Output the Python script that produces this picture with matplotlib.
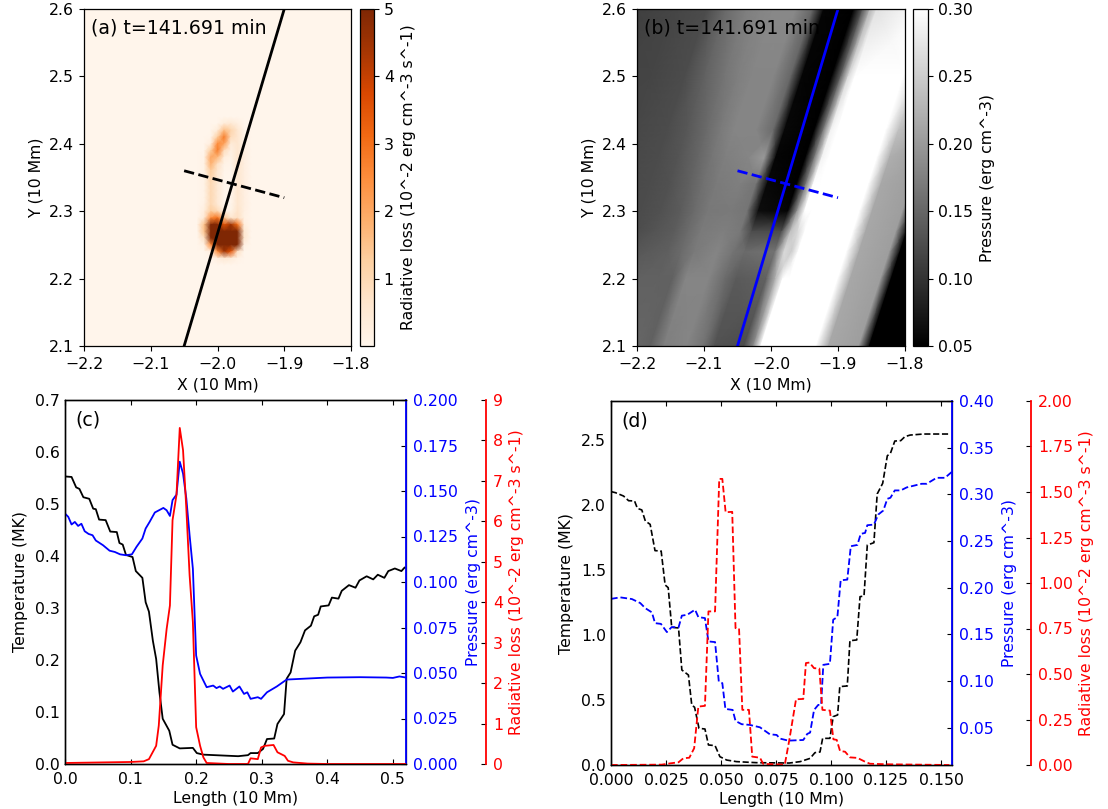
import numpy as np
import matplotlib
matplotlib.use('Agg')
import matplotlib.pyplot as plt

plt.rcParams['font.size'] = 11.3
plt.rcParams['axes.linewidth'] = 0.9

W, H = 1108, 809

# slice lines
long_x = [-2.05, -1.90]
long_y = [2.10, 2.60]
short_x = [-2.05, -1.90]
short_y = [2.36, 2.32]

# radiative loss map around the blob (10^-2 erg cm^-3 s^-1), the core saturates the colour scale
rad_x = [-2.03, -2.02, -2.01, -2.00, -1.99, -1.98, -1.97, -1.96, -1.95]
rad_y = [2.44, 2.43, 2.42, 2.41, 2.40, 2.39, 2.38, 2.37, 2.36, 2.35, 2.34, 2.33,
         2.32, 2.31, 2.30, 2.29, 2.28, 2.27, 2.26, 2.25, 2.24, 2.23, 2.22]
rad_vals = [
    [0, 0, 0, 0, 0, 0, 0, 0, 0],
    [0, 0, 0, 0, .4, .5, .25, 0, 0],
    [0, 0, 0, .4, 1.6, 1.1, .6, .05, 0],
    [0, 0, .05, 1.3, 2.8, .9, .6, .1, 0],
    [0, 0, .3, 2.5, 2.1, .4, .6, .15, 0],
    [0, 0, 1.3, 2.8, .9, .2, .6, .2, 0],
    [0, .1, 2.0, 1.7, .3, .1, .65, .25, 0],
    [0, .1, 1.8, .8, .1, .05, .65, .25, 0],
    [0, .1, 1.3, .6, .05, 0, .6, .25, 0],
    [0, .1, 1.1, .5, 0, 0, .6, .25, 0],
    [0, .1, 1.0, .5, 0, 0, .6, .25, 0],
    [0, .1, 1.0, .5, 0, 0, .6, .25, 0],
    [0, .1, 1.0, .5, 0, 0, .6, .25, 0],
    [0, .15, 1.0, .5, 0, 0, .6, .25, 0],
    [0, .3, 1.3, 1.0, .2, .1, .7, .2, 0],
    [0, .5, 2.5, 3, 1.5, .6, .8, .15, 0],
    [.1, 1.5, 5, 6, 3.5, 4.5, 3, .3, 0],
    [.05, 1.5, 7, 9, 9, 9, 6, .6, 0],
    [0, .8, 6, 12, 12, 12, 7, .6, 0],
    [0, .2, 2.5, 9, 12, 11, 5, .2, 0],
    [0, 0, .3, 2.5, 4.5, 3.5, .8, 0, 0],
    [0, 0, 0, .3, .5, .4, .1, 0, 0],
    [0, 0, 0, 0, 0, 0, 0, 0, 0],
]

# pressure map, columns follow the tilted field direction (x value where the band meets y=2.1)
pre_u = [-2.368, -2.309, -2.259, -2.230, -2.200, -2.180, -2.160, -2.126, -2.101, -2.084,
         -2.040, -2.026, -2.015, -2.005, -1.933, -1.914, -1.869, -1.853, -1.800]
pre_y = [2.60, 2.50, 2.42, 2.38, 2.34, 2.30, 2.27, 2.24, 2.20, 2.10]
pre_vals = [
    [.112, .118, .125, .155, .175, .180, .183, .183, .150, .055, .050, .138, .225, .270, .300, .300, .300, .300, .300],
    [.115, .118, .125, .145, .165, .175, .180, .180, .150, .055, .050, .150, .263, .300, .300, .275, .215, .175, .175],
    [.118, .120, .125, .135, .155, .170, .180, .180, .155, .058, .050, .175, .288, .300, .300, .238, .205, .125, .050],
    [.118, .120, .125, .133, .150, .165, .175, .180, .200, .055, .050, .175, .288, .300, .300, .220, .205, .100, .050],
    [.118, .120, .125, .130, .145, .160, .170, .175, .165, .058, .050, .175, .300, .300, .300, .215, .205, .075, .050],
    [.118, .120, .125, .130, .140, .155, .168, .170, .165, .063, .055, .200, .300, .300, .300, .215, .205, .063, .050],
    [.125, .125, .125, .133, .140, .155, .170, .175, .168, .125, .125, .238, .263, .300, .300, .215, .205, .055, .050],
    [.133, .133, .133, .138, .143, .155, .170, .180, .163, .155, .163, .263, .250, .300, .300, .215, .205, .050, .050],
    [.145, .145, .145, .145, .145, .145, .180, .180, .155, .138, .145, .225, .300, .300, .300, .215, .205, .050, .050],
    [.150, .150, .150, .150, .150, .145, .175, .180, .163, .130, .125, .188, .300, .300, .300, .215, .205, .050, .050],
]

# panel (c) solid cut
c_temp_x = [0, .010, .017, .022, .028, .037, .043, .047, .052, .062, .069, .079, .083, .088, .093, .103, .108,
            .118, .123, .128, .134, .139, .144, .149, .159, .164, .175, .195, .201, .211, .246, .264, .279, .283,
            .294, .302, .308, .319, .324, .334, .338, .344, .351, .359, .366, .375, .380, .386, .390, .402, .407,
            .417, .422, .433, .443, .449, .460, .470, .477, .487, .493, .503, .513, .518, .520]
c_temp_y = [.553, .552, .532, .529, .513, .510, .491, .490, .470, .469, .447, .446, .425, .422, .402, .398, .371,
            .358, .311, .293, .237, .202, .138, .087, .064, .037, .030, .031, .021, .018, .016, .015, .017, .021,
            .021, .029, .048, .049, .077, .096, .164, .176, .218, .234, .257, .266, .284, .287, .303, .305, .320,
            .318, .333, .344, .339, .353, .361, .355, .364, .358, .371, .376, .371, .378, .377]
c_pres_x = [0, .005, .010, .015, .020, .025, .030, .036, .042, .047, .058, .068, .076, .084, .093, .102, .109,
            .118, .123, .129, .137, .150, .155, .160, .164, .170, .175, .180, .185, .190, .195, .200, .206, .216,
            .226, .231, .236, .241, .251, .256, .266, .273, .278, .283, .294, .299, .308, .323, .338, .40, .45,
            .49, .50, .51, .52]
c_pres_y = [.1376, .1358, .1316, .133, .1308, .132, .1279, .1264, .1257, .1228, .1202, .1172, .1165, .1152, .1147,
            .1152, .1193, .1239, .1294, .133, .1382, .1407, .1394, .1363, .145, .148, .1661, .1596, .1459, .1257,
            .1073, .0596, .0495, .0422, .0431, .0417, .0426, .0413, .0431, .0398, .0426, .0385, .0394, .0358,
            .0367, .0358, .0394, .0426, .0464, .0475, .0477, .0475, .0473, .0481, .0475]
c_rad_x = [0, .10, .12, .128, .139, .143, .149, .155, .160, .164, .170, .175, .180, .185, .190, .195, .200, .206,
           .211, .216, .25, .279, .283, .294, .299, .305, .318, .324, .335, .34, .348, .37, .40, .52]
c_rad_y = [.025, .05, .066, .12, .45, .95, 2.44, 3.34, 3.92, 6.03, 6.65, 8.31, 7.76, 6.32, 4.67, 3.51, .91, .45,
           .165, .025, 0, 0, .14, .12, .41, .45, .47, .29, .2, .08, .04, .01, 0, 0]

# panel (d) dashed cut
d_temp_x = [0, .002, .0057, .008, .0107, .012, .014, .0156, .0178, .020, .0228, .0246, .026, .0276, .0307, .0322,
            .0352, .0367, .038, .040, .0427, .0443, .0473, .0495, .0526, .057, .066, .081, .086, .0905, .0927, .095,
            .0962, .0995, .101, .103, .104, .1074, .1086, .1117, .1132, .115, .1165, .1195, .121, .1235, .1256,
            .127, .129, .1317, .1336, .136, .142, .1536]
d_temp_y = [2.103, 2.095, 2.069, 2.033, 2.031, 1.974, 1.962, 1.877, 1.851, 1.649, 1.646, 1.385, 1.364, 1.059, 1.054,
            .731, .692, .462, .444, .282, .277, .154, .149, .064, .038, .026, .018, .015, .026, .051, .095, .10,
            .205, .205, .372, .385, .603, .608, .956, .962, 1.295, 1.30, 1.692, 1.71, 2.085, 2.167, 2.379, 2.397,
            2.492, 2.495, 2.526, 2.538, 2.546, 2.546]
d_pres_x = [0, .0042, .0095, .0133, .0156, .0186, .020, .0227, .0254, .0276, .0307, .0322, .0347, .0382, .0397,
            .0427, .0443, .0473, .049, .0506, .052, .0553, .0566, .0594, .063, .0677, .0722, .0753, .0768, .0806,
            .0874, .0892, .0905, .0923, .0942, .0955, .0965, .0995, .101, .1029, .1044, .1074, .109, .112, .1135,
            .1155, .1165, .1195, .1215, .1238, .1256, .127, .129, .1317, .1344, .1412, .1435, .148, .1518, .155]
d_pres_y = [.188, .1896, .1878, .1835, .178, .1735, .162, .1612, .1524, .1578, .1574, .170, .171, .1764, .1685,
            .1674, .1424, .1417, .0995, .0977, .0701, .069, .0572, .0537, .053, .0504, .0429, .0422, .0383, .0361,
            .0368, .0433, .0447, .069, .0744, .0744, .1173, .1184, .1657, .1685, .2079, .2086, .2444, .2458, .2576,
            .2587, .2669, .2676, .2784, .2827, .2952, .2963, .3042, .3042, .3074, .3113, .3113, .3177, .3177, .3242]
d_rad_x = [0, .0231, .0269, .0307, .0329, .0356, .0378, .0397, .0427, .0443, .0473, .0492, .0506, .0521, .0551,
           .0566, .0582, .0597, .0627, .0642, .0677, .0692, .079, .0791, .081, .0841, .0874, .0886, .0902, .0923,
           .0947, .0961, .0995, .1011, .1026, .1041, .1064, .1086, .112, .1155, .1177, .125, .1538]
d_rad_y = [0, .002, .009, .015, .037, .04, .092, .321, .325, .844, .844, 1.572, 1.572, 1.389, 1.391, .752, .75, .303,
           .303, .046, .04, .006, .002, .009, .134, .361, .363, .56, .563, .532, .53, .303, .299, .141, .138, .077,
           .073, .042, .039, .018, .007, .004, 0]


def px_axes(fig, x0, y0, x1, y1):
    # pixel box (y down) to figure fractions
    return fig.add_axes([x0 / W, 1 - y1 / H, (x1 - x0) / W, (y1 - y0) / H])


def map_axes(fig, box, cbox, label):
    ax = px_axes(fig, *box)
    cax = px_axes(fig, *cbox)
    ax.set_xlim(-2.2, -1.8)
    ax.set_ylim(2.1, 2.6)
    ax.set_xticks([-2.2, -2.1, -2.0, -1.9, -1.8])
    ax.tick_params(axis='x', pad=4.5)
    ax.set_xlabel('X (10 Mm)', labelpad=4)
    ax.set_ylabel('Y (10 Mm)', labelpad=4)
    ax.text(0.025, 0.945, label, transform=ax.transAxes, fontsize=13.6, va='center')
    return ax, cax


def cut_axes(fig, box, xlim, ylim, xticks, yticks, pticks, plim, rticks, rlim, offset, label):
    ax = px_axes(fig, *box)
    ax.set_xlim(*xlim)
    ax.set_ylim(*ylim)
    ax.set_xticks(xticks)
    ax.set_yticks(yticks)
    ax.tick_params(axis='x', direction='in', top=True, pad=5.5)
    ax.tick_params(axis='y', length=0)
    ax.set_xlabel('Length (10 Mm)', labelpad=3)
    ax.set_ylabel('Temperature (MK)', labelpad=5)
    ax.text(0.03, 0.945, label, transform=ax.transAxes, fontsize=13.6, va='center')

    ax2 = ax.twinx()
    ax2.set_ylim(*plim)
    ax2.set_yticks(pticks)
    ax2.set_yticklabels(['%.3f' % v if pticks[1] - pticks[0] < 0.05 else '%.2f' % v for v in pticks])
    ax2.spines['right'].set_color('b')
    ax2.spines['right'].set_linewidth(1.3)
    ax2.tick_params(axis='y', direction='in', labelcolor='b', pad=5)
    ax2.set_ylabel('Pressure (erg cm^-3)', color='b', labelpad=6)

    ax3 = ax.twinx()
    ax3.spines['right'].set_position(('axes', offset))
    ax3.spines['right'].set_color('r')
    ax3.spines['right'].set_linewidth(1.3)
    ax3.set_ylim(*rlim)
    ax3.set_yticks(rticks)
    ax3.tick_params(axis='y', direction='in', labelcolor='r', pad=5)
    ax3.set_ylabel('Radiative loss (10^-2 erg cm^-3 s^-1)', color='r', labelpad=4)
    return ax, ax2, ax3


fig = plt.figure(figsize=(W / 100, H / 100), dpi=100)

# (a)
ax, cax = map_axes(fig, (84, 9, 351, 346), (360, 9, 374, 346), '(a) t=141.691 min')
ax.set_facecolor(plt.get_cmap('Oranges')(0.0))
m = ax.pcolormesh(rad_x, rad_y, np.array(rad_vals), cmap='Oranges', vmin=0, vmax=5, shading='gouraud')
ax.plot(long_x, long_y, 'k-', lw=2)
ax.plot(short_x, short_y, 'k--', lw=2)
cb = fig.colorbar(m, cax=cax)
cb.set_ticks([1, 2, 3, 4, 5])
cb.set_label('Radiative loss (10^-2 erg cm^-3 s^-1)', labelpad=5)

# (b)
ax, cax = map_axes(fig, (637, 9, 905, 346), (913, 9, 928, 346), '(b) t=141.691 min')
ug, yg = np.meshgrid(pre_u, pre_y)
xg = ug + 0.326 * (yg - 2.1)
m = ax.pcolormesh(xg, yg, np.array(pre_vals), cmap='gray', vmin=0.05, vmax=0.30, shading='gouraud')
ax.plot(long_x, long_y, 'b-', lw=2)
ax.plot(short_x, short_y, 'b--', lw=2)
cb = fig.colorbar(m, cax=cax)
cb.set_ticks([0.05, 0.10, 0.15, 0.20, 0.25, 0.30])
cb.set_ticklabels(['0.05', '0.10', '0.15', '0.20', '0.25', '0.30'])
cb.set_label('Pressure (erg cm^-3)', labelpad=5)

# (c)
ax, ax2, ax3 = cut_axes(fig, (65, 400, 406, 764), (0, 0.52), (0, 0.7),
                        [0, .1, .2, .3, .4, .5], [0, .1, .2, .3, .4, .5, .6, .7],
                        [0, .025, .05, .075, .1, .125, .15, .175, .2], (0, 0.2),
                        list(range(10)), (0, 9), 1.235, '(c)')
ax.plot(c_temp_x, c_temp_y, 'k-', lw=1.3)
ax2.plot(c_pres_x, c_pres_y, 'b-', lw=1.3)
ax3.plot(c_rad_x, c_rad_y, 'r-', lw=1.3)

# (d)
ax, ax2, ax3 = cut_axes(fig, (611, 401, 952, 765), (0, 0.155), (0, 2.8),
                        [0, .025, .05, .075, .1, .125, .15], [0, .5, 1, 1.5, 2, 2.5],
                        [.05, .1, .15, .2, .25, .3, .35, .4], (0.01, 0.4),
                        [0, .25, .5, .75, 1, 1.25, 1.5, 1.75, 2], (0, 2), 1.232, '(d)')
ax.set_xticklabels(['0.000', '0.025', '0.050', '0.075', '0.100', '0.125', '0.150'])
ax3.set_yticklabels(['0.00', '0.25', '0.50', '0.75', '1.00', '1.25', '1.50', '1.75', '2.00'])
ax.plot(d_temp_x, d_temp_y, 'k--', lw=1.2)
ax2.plot(d_pres_x, d_pres_y, 'b--', lw=1.3)
ax3.plot(d_rad_x, d_rad_y, 'r--', lw=1.3)

plt.savefig('out.png', dpi=100)
